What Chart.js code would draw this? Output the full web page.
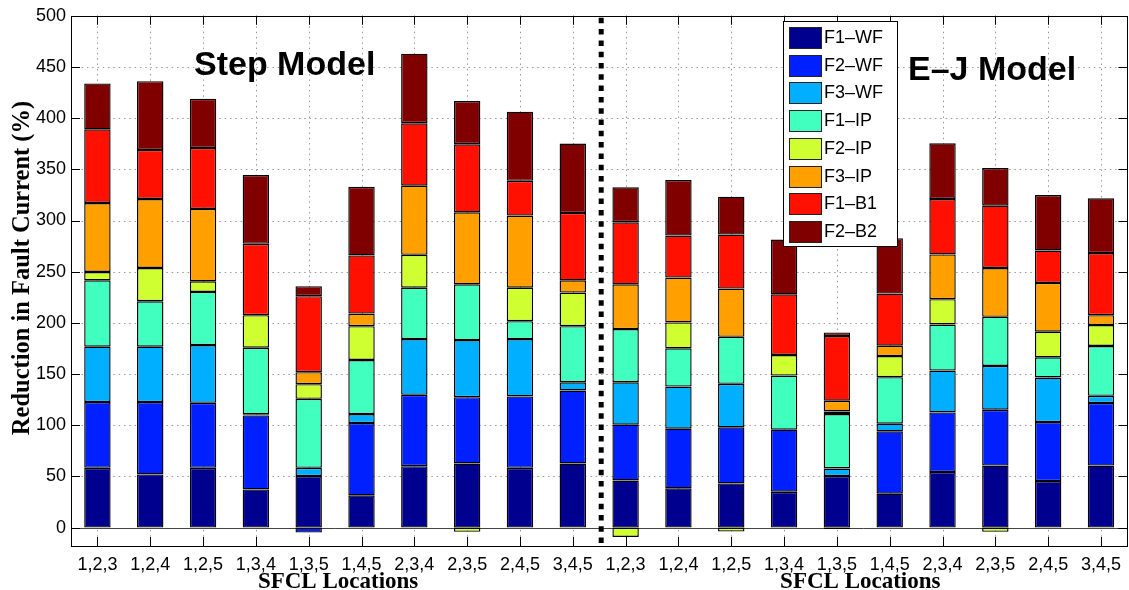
<!DOCTYPE html>
<html>
<head>
<meta charset="utf-8">
<script src="https://cdn.jsdelivr.net/npm/chart.js@4.4.1/dist/chart.umd.min.js"></script>
<style>
html,body{margin:0;padding:0;background:#fff;}
canvas{display:block;}
</style>
</head>
<body>
<canvas id="c" width="1129" height="590"></canvas>
<script>
const categories = ["1,2,3","1,2,4","1,2,5","1,3,4","1,3,5","1,4,5","2,3,4","2,3,5","2,4,5","3,4,5",
                    "1,2,3","1,2,4","1,2,5","1,3,4","1,3,5","1,4,5","2,3,4","2,3,5","2,4,5","3,4,5"];
const seriesNames = ["F1\u2013WF","F2\u2013WF","F3\u2013WF","F1\u2013IP","F2\u2013IP","F3\u2013IP","F1\u2013B1","F2\u2013B2"];
const seriesColors = ["#00008F","#0020FF","#00AFFF","#40FFBF","#CFFF30","#FFA000","#FF1000","#800000"];

const f1WF = [58.4, 51.9, 58.4, 37.3, 50.3, 31.5, 60.0, 62.6, 58.4, 62.6, 46.0, 38.3, 43.1, 35.0, 50.3, 33.1, 54.2, 60.6, 45.4, 60.6];
const f2WF = [64.2, 70.7, 63.5, 72.3, -4.9, 70.6, 69.7, 64.8, 69.7, 71.3, 54.5, 58.3, 54.8, 60.6, -1.5, 60.9, 58.3, 54.5, 57.7, 61.0];
const f3WF = [54.1, 54.1, 56.4, 1.0, 8.1, 8.8, 54.5, 55.8, 56.1, 8.1, 41.5, 41.2, 42.5, 0, 7.4, 7.5, 40.9, 42.8, 43.5, 7.1];
const f1IP = [64.9, 44.4, 51.9, 65.1, 67.4, 52.8, 50.2, 54.5, 17.5, 54.8, 51.9, 37.3, 46.0, 52.9, 53.2, 45.4, 45.0, 48.0, 19.7, 48.7];
const f2IP = [8.1, 32.5, 10.4, 31.8, 14.3, 33.1, 32.1, -4.2, 32.7, 32.8, -9.1, 25.3, -3.9, 20.1, 2.6, 20.7, 24.7, -4.2, 25.0, 20.4];
const f3IP = [67.4, 67.4, 70.7, 0, 11.7, 12.3, 67.5, 70.3, 70.4, 12.0, 43.8, 43.8, 47.1, 0, 10.4, 10.1, 43.8, 47.7, 47.7, 9.7];
const f1B1 = [72.0, 48.0, 59.6, 69.7, 74.3, 56.8, 61.0, 66.5, 34.0, 65.8, 60.6, 41.1, 52.8, 59.3, 63.2, 50.9, 54.1, 60.9, 31.7, 60.7];
const f2B2 = [44.8, 67.1, 48.0, 67.2, 9.7, 67.1, 68.0, 42.2, 67.5, 67.8, 34.1, 54.2, 37.0, 53.5, 3.6, 54.1, 54.5, 36.7, 54.2, 53.5];

const yTicks = [0,50,100,150,200,250,300,350,400,450,500];
const panelTitles = ["Step Model","E\u2013J Model"];
const xTitle = "SFCL Locations";
const yTitle = "Reduction in Fault Current (%)";

const allSeries = [f1WF,f2WF,f3WF,f1IP,f2IP,f3IP,f1B1,f2B2];

const datasets = allSeries.map((d,i)=>({
  label: seriesNames[i],
  data: d,
  backgroundColor: seriesColors[i],
  borderColor: "#000",
  borderWidth: 1.4,
  borderSkipped: false,
  inflateAmount: 0,
  stack: "s",
  categoryPercentage: 1.0,
  barPercentage: 0.5
}));

const SANS = "'Liberation Sans', Arial, sans-serif";
const SERIF = "'Liberation Serif', 'Times New Roman', serif";

const decor = {
  id: "decor",
  beforeDatasetsDraw(chart){
    const ctx = chart.ctx, a = chart.chartArea, x = chart.scales.x, y = chart.scales.y;
    ctx.save();
    // dotted grid
    ctx.strokeStyle = "#9a9a9a";
    ctx.lineWidth = 1;
    ctx.setLineDash([1.5, 3.8]);
    ctx.beginPath();
    yTicks.forEach(v=>{
      if (v === 0) return;
      const p = Math.round(y.getPixelForValue(v))+0.5;
      ctx.moveTo(a.left, p); ctx.lineTo(a.right, p);
    });
    categories.forEach((c,i)=>{
      const p = Math.round(x.getPixelForValue(i))+0.5;
      ctx.moveTo(p, a.top); ctx.lineTo(p, a.bottom);
    });
    ctx.stroke();
    ctx.setLineDash([]);
    // baseline
    const y0 = y.getPixelForValue(0);
    ctx.strokeStyle = "#444";
    ctx.beginPath();
    ctx.moveTo(a.left, Math.round(y0)+0.5);
    ctx.lineTo(a.right, Math.round(y0)+0.5);
    ctx.stroke();
    ctx.restore();
  },
  afterDraw(chart){
    const ctx = chart.ctx, a = chart.chartArea, x = chart.scales.x, y = chart.scales.y;
    ctx.save();
    // frame
    ctx.strokeStyle = "#000";
    ctx.lineWidth = 1;
    ctx.strokeRect(Math.round(a.left)+0.5, Math.round(a.top)+0.5, Math.round(a.right-a.left), Math.round(a.bottom-a.top));
    // ticks
    ctx.beginPath();
    yTicks.forEach(v=>{
      const p = Math.round(y.getPixelForValue(v))+0.5;
      ctx.moveTo(a.left, p); ctx.lineTo(a.left+9, p);
      ctx.moveTo(a.right, p); ctx.lineTo(a.right-9, p);
    });
    categories.forEach((c,i)=>{
      const p = Math.round(x.getPixelForValue(i))+0.5;
      ctx.moveTo(p, a.bottom); ctx.lineTo(p, a.bottom-9);
      ctx.moveTo(p, a.top); ctx.lineTo(p, a.top+9);
    });
    ctx.stroke();

    // divider
    const half = categories.length/2;
    const xd = (x.getPixelForValue(half-1)+x.getPixelForValue(half))/2 + 2;
    ctx.strokeStyle = "#000";
    ctx.lineWidth = 5;
    ctx.setLineDash([5.5,5.8]);
    ctx.beginPath();
    ctx.moveTo(xd, a.top+2); ctx.lineTo(xd, a.bottom);
    ctx.stroke();
    ctx.setLineDash([]);

    // panel titles
    ctx.fillStyle = "#000";
    ctx.font = "bold 34px " + SANS;
    ctx.textAlign = "left";
    ctx.textBaseline = "alphabetic";
    ctx.fillText(panelTitles[0], 194, 75);
    ctx.fillText(panelTitles[1], 908, 80);

    // x titles
    ctx.font = "bold 23px " + SERIF;
    ctx.textAlign = "center";
    const c1 = (x.getPixelForValue(half/2-1)+x.getPixelForValue(half/2))/2;
    const c2 = (x.getPixelForValue(half+half/2-1)+x.getPixelForValue(half+half/2))/2;
    ctx.fillText(xTitle, c1+3, 588);
    ctx.fillText(xTitle, c2-3, 588);

    // y title
    ctx.save();
    ctx.font = "bold 24.5px " + SERIF;
    ctx.translate(29, 268);
    ctx.rotate(-Math.PI/2);
    ctx.textAlign = "center";
    ctx.fillText(yTitle, 0, 0);
    ctx.restore();

    // legend
    const lx = 783, ly = 21, lw = 114, lh = 225;
    ctx.fillStyle = "#fff";
    ctx.fillRect(lx, ly, lw, lh);
    ctx.strokeStyle = "#000";
    ctx.lineWidth = 1;
    ctx.strokeRect(lx+0.5, ly+0.5, lw, lh);
    ctx.font = "18px " + SANS;
    ctx.textAlign = "left";
    ctx.textBaseline = "middle";
    seriesNames.forEach((n,i)=>{
      const sy = Math.round(ly + 6 + i*27.7);
      ctx.fillStyle = seriesColors[i];
      ctx.fillRect(789, sy, 32, 21);
      ctx.strokeStyle = "#222";
      ctx.strokeRect(789.5, sy+0.5, 32, 21);
      ctx.fillStyle = "#000";
      ctx.fillText(n, 824, sy+11);
    });
    ctx.restore();
  }
};

new Chart(document.getElementById("c"), {
  type: "bar",
  data: { labels: categories, datasets: datasets },
  options: {
    responsive: false,
    animation: false,
    devicePixelRatio: 1,
    layout: { padding: { top: 13, right: -4, left: 0, bottom: 0 } },
    plugins: { legend: { display: false }, tooltip: { enabled: false } },
    scales: {
      x: {
        stacked: true,
        grid: { display: false, offset: false, drawTicks: false },
        border: { display: false },
        ticks: { color: "#000", font: { family: SANS, size: 18 }, padding: 8, maxRotation: 0, autoSkip: false },
        afterFit: s => { s.height = 44; }
      },
      y: {
        stacked: true,
        min: -18,
        max: 500,
        grid: { display: false, drawTicks: false },
        border: { display: false },
        ticks: { stepSize: 50, color: "#000", font: { family: SANS, size: 18 }, padding: 5 },
        afterBuildTicks: s => { s.ticks = yTicks.map(v => ({ value: v })); },
        afterFit: s => { s.width = 71; }
      }
    }
  },
  plugins: [decor]
});
</script>
</body>
</html>
